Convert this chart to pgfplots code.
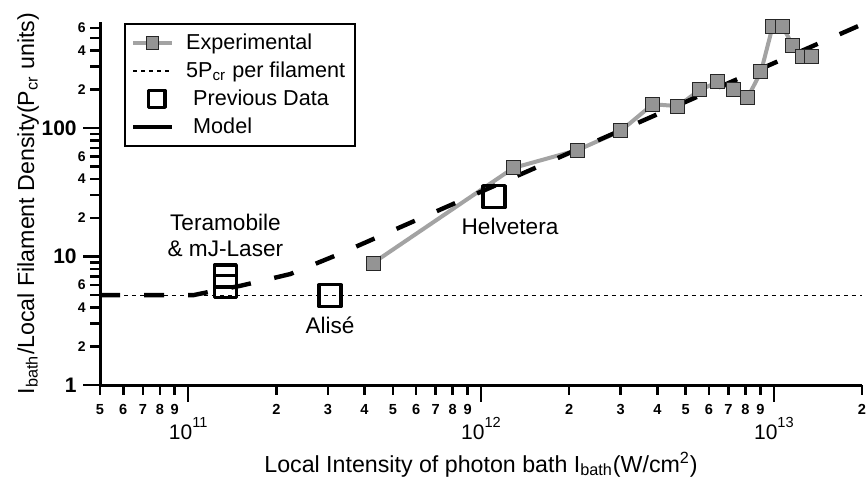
\documentclass[border=0pt]{standalone}
\usepackage{fontspec}
\setmainfont{Liberation Sans}
\usepackage{pgfplots}
\pgfplotsset{compat=1.18}

\definecolor{expline}{gray}{0.64}
\definecolor{expfill}{gray}{0.58}
\newcommand{\ymaj}[1]{\makebox[0pt][r]{\fontsize{10.5}{12}\selectfont\bfseries #1\hspace{4.5pt}}}
\newcommand{\ymin}[1]{\makebox[0pt][r]{\fontsize{7}{8}\selectfont\bfseries #1}}
\newcommand{\xd}[1]{\raisebox{-9pt}{\fontsize{7.3}{8}\selectfont\bfseries #1}}
\newcommand{\xmaj}[1]{\raisebox{-21.5pt}{\fontsize{10.5}{12}\selectfont 10\raisebox{6pt}{\fontsize{7.3}{8}\selectfont #1}}}
\pgfplotsset{
  legline/.style={legend image code/.code={\draw[mark repeat=2,mark phase=2,##1] plot coordinates {(0pt,0pt) (9.75pt,0pt) (19.5pt,0pt)};}},
  legshort/.style={legend image code/.code={\path (0pt,0pt) -- (19.5pt,0pt); \draw[##1] (0pt,0pt) -- (#1,0pt);}},
  legmark/.style={legend image code/.code={\path (0pt,0pt) -- (19.5pt,0pt); \draw[##1] plot coordinates {(#1,0pt)};}},
}

\begin{document}
\begin{tikzpicture}
\begin{axis}[
  name=ax,
  scale only axis, width=381pt, height=181.5pt,
  xmode=log, ymode=log,
  xmin=5e10, xmax=2e13, ymin=1, ymax=668,
  axis x line*=bottom, axis y line*=left,
  axis line style={line width=1.5pt, -},
  every tick/.style={black, line width=1.3pt},
  tick align=outside,
  major tick length=5pt, minor tick length=5pt,
  clip=false,
  /pgf/number format/assume math mode=true,
  xtick={5e10,6e10,7e10,8e10,9e10,1e11,2e11,3e11,4e11,5e11,6e11,7e11,8e11,9e11,1e12,2e12,3e12,4e12,5e12,6e12,7e12,8e12,9e12,1e13,2e13},
  xticklabels={\xd{5},\xd{6},\xd{7},\xd{8},\xd{9},\xmaj{11},\xd{2},\xd{3},\xd{4},\xd{5},\xd{6},\xd{7},\xd{8},\xd{9},\xmaj{12},\xd{2},\xd{3},\xd{4},\xd{5},\xd{6},\xd{7},\xd{8},\xd{9},\xmaj{13},\xd{2}},
  xticklabel style={anchor=north, inner sep=0pt, text height=0pt, text depth=0pt},
  extra x ticks={1e11,1e12,1e13},
  extra x tick labels={},
  extra x tick style={major tick length=8.5pt},
  ytick={1,2,3,4,5,6,7,8,9,10,20,30,40,50,60,70,80,90,100,200,300,400,500,600},
  yticklabels={\ymaj{1},\ymin{2},{},\ymin{4},{},\ymin{6},{},{},{},\ymaj{10},\ymin{2},{},\ymin{4},{},\ymin{6},{},{},{},\ymaj{100},\ymin{2},{},\ymin{4},{},\ymin{6}},
  yticklabel style={anchor=east, inner sep=0pt, xshift=-1.5pt},
  extra y ticks={1,10,100},
  extra y tick labels={},
  extra y tick style={major tick length=8.5pt},
  xlabel={Local Intensity of photon bath I\textsubscript{bath}(W/cm\textsuperscript{2})},
  xlabel style={at={(axis description cs:0.5,-0.2397)}, anchor=base, font=\fontsize{11.6}{13}\selectfont},
  ylabel={I\textsubscript{bath}/Local Filament Density(P\textsubscript{cr} units)},
  ylabel style={at={(axis description cs:-0.0945,0.5)}, anchor=center, font=\fontsize{11.6}{13}\selectfont},
  legend style={at={(rel axis cs:0.0315,0.997)}, anchor=north west, draw=black, line width=0.8pt,
    font=\fontsize{10.8}{12}\selectfont, row sep=0.6pt, inner xsep=3pt, inner ysep=3pt},
  legend cell align=left,
]
\addlegendimage{legline, expline, line width=2pt, mark=square*, mark size=3.2pt, mark options={fill=expfill, draw=black!85, line width=0.5pt}}
\addlegendentry{\hspace*{4pt}Experimental}
\addlegendimage{legshort=14pt, black, line width=0.6pt, dash pattern=on 2pt off 2pt}
\addlegendentry{\hspace*{4pt}5P\textsubscript{cr} per filament}
\addlegendimage{legmark=11.8pt, black, line width=1.6pt, mark=square, mark size=4.2pt, draw=none, mark options={draw=black, line join=round}}
\addlegendentry{\hspace*{7.5pt}Previous Data}
\addlegendimage{legshort=12pt, black, line width=2.2pt}
\addlegendentry{\hspace*{7.5pt}Model}

% 5 Pcr per filament
\addplot[forget plot, black, line width=0.6pt, dash pattern=on 2pt off 2pt] coordinates {(5e10,5) (2e13,5)};

% Experimental
\addplot[forget plot, expline, line width=2pt, mark=square*, mark size=3.5pt, mark options={fill=expfill, draw=black!85, line width=0.5pt}] coordinates {
(4.28e11,8.9) (1.29e12,48.9) (2.14e12,67.4) (3.0e12,95) (3.86e12,153) (4.70e12,148)
(5.59e12,198) (6.44e12,228) (7.3e12,198) (8.15e12,174) (9.03e12,273) (9.89e12,611)
(1.074e13,611) (1.16e13,435) (1.25e13,363) (1.34e13,363)};

% Model
\addplot[forget plot, black, line width=2.2pt, dash pattern=on 10pt off 12pt] coordinates {
(5e10,5) (1.04e11,5) (1.25e11,5.45) (1.5e11,5.9) (1.75e11,6.4) (2.23e11,7.3) (3.23e11,10.3) (2e13,640)};

% Previous data
\addplot[forget plot, only marks, mark=square, mark size=5.5pt, mark options={black, line width=1.6pt, line join=round}] coordinates {
(1.34e11,7.05) (1.34e11,5.84) (3.05e11,4.95) (1.107e12,29.2)};

\node[font=\fontsize{11.3}{13}\selectfont, align=center] at (axis cs:1.34e11,14.7) {Teramobile\\\& mJ-Laser};
\node[font=\fontsize{11.3}{13}\selectfont] at (axis cs:3.05e11,2.93) {Alisé};
\node[font=\fontsize{11.3}{13}\selectfont] at (axis cs:1.256e12,17.0) {Helvetera};
\end{axis}
\pgfresetboundingbox
\path[use as bounding box] ([xshift=-50pt,yshift=-46pt]ax.south west) rectangle ([xshift=2.5pt,yshift=11pt]ax.north east);
\end{tikzpicture}
\end{document}
